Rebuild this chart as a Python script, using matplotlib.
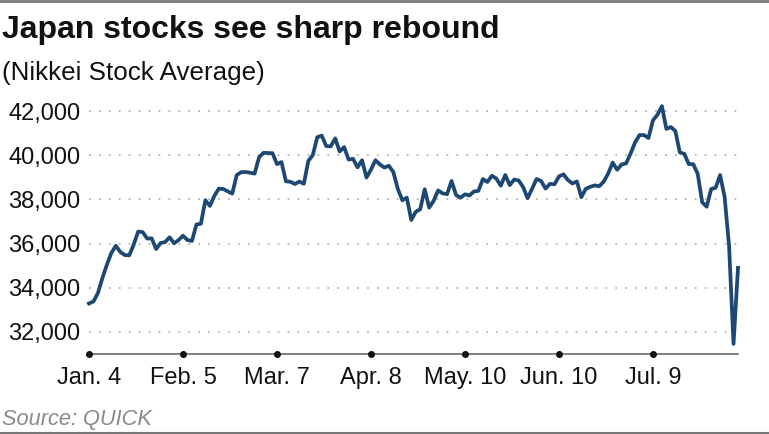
import matplotlib
matplotlib.use("Agg")
import matplotlib.pyplot as plt
from matplotlib.lines import Line2D

# Nikkei Stock Average daily closes, Jan 4 - Aug 6, 2024 (trading days)
nikkei = [
    # January
    33288, 33377, 33763, 34441, 35049, 35577, 35901, 35619, 35477, 35466,
    35963, 36546, 36517, 36226, 36236, 35751, 36026, 36065, 36287,
    # February
    36011, 36158, 36354, 36160, 36119, 36863, 36897, 37963, 37703, 38157,
    38487, 38470, 38363, 38262, 39098, 39233, 39239, 39208, 39166,
    # March
    39910, 40109, 40097, 40090, 39598, 39688, 38820, 38797, 38695, 38807,
    38707, 39740, 40003, 40815, 40888, 40414, 40398, 40762, 40168, 40369,
    # April
    39803, 39838, 39451, 39773, 38992, 39347, 39773, 39581, 39442, 39523,
    39232, 38471, 37961, 38079, 37068, 37438, 37552, 38460, 37628, 37934,
    38406,
    # May
    38274, 38236, 38835, 38202, 38073, 38229, 38179, 38356, 38385, 38920,
    38787, 39069, 38946, 38617, 39103, 38646, 38900, 38855, 38556, 38054,
    38487,
    # June
    38923, 38837, 38490, 38703, 38683, 39038, 39134, 38876, 38720, 38814,
    38102, 38482, 38570, 38633, 38596, 38804, 39173, 39667, 39341, 39583,
    # July
    39631, 40074, 40580, 40913, 40912, 40780, 41580, 41831, 42224, 41190,
    41275, 41097, 40126, 40063, 39599, 39594, 39155, 37869, 37667, 38468,
    38525, 39102,
    # August
    38126, 35909, 31458, 34900,
]
tick_positions = [0, 21, 42, 63, 84, 105, 126]
tick_labels = ["Jan. 4", "Feb. 5", "Mar. 7", "Apr. 8", "May. 10", "Jun. 10", "Jul. 9"]
y_ticks = [32000, 34000, 36000, 38000, 40000, 42000]

W, H = 769, 434
fig = plt.figure(figsize=(W / 100, H / 100), dpi=100)
plt.rcParams['font.family'] = ['Liberation Sans', 'DejaVu Sans']

# axes: x idx 0 at px 89, idx 145 at px 738; y 31000 at px 354, 42400 at px ~102
left, right = 89 / W, 738 / W
bottom, top = (H - 354) / H, (H - 102.2) / H
ax = fig.add_axes([left, bottom, right - left, top - bottom])
ax.set_xlim(0, len(nikkei) - 1)
ax.set_ylim(31000, 42400)

for s in ax.spines.values():
    s.set_visible(False)

ax.set_yticks(y_ticks)
ax.set_yticklabels([f"{v:,}" for v in y_ticks], fontsize=17, color="#111111")
ax.tick_params(axis="y", length=0, pad=6)
for v in y_ticks:
    ax.axhline(v, color="#b5b5b5", linewidth=1.3, linestyle=(0, (1, 4.5)), zorder=1)

ax.set_xticks(tick_positions)
ax.set_xticklabels(tick_labels, fontsize=17, color="#111111")
ax.tick_params(axis="x", length=0, pad=9.5)

# baseline with tick dots
ax.axhline(31000, color="#6a6a6a", linewidth=1.2, zorder=2, clip_on=False)
ax.plot(tick_positions, [31000] * len(tick_positions), "o", color="#111111",
        markersize=4, zorder=3, clip_on=False)

ax.plot(range(len(nikkei)), nikkei, color="#1d4873", linewidth=2.7,
        solid_joinstyle="round", zorder=4, clip_on=False)

fig.text(2 / W, 1 - 38 / H, "Japan stocks see sharp rebound", fontsize=23,
         fontweight="bold", color="#111111", ha="left", va="baseline")
fig.text(2 / W, 1 - 80 / H, "(Nikkei Stock Average)", fontsize=18.7,
         color="#111111", ha="left", va="baseline")
fig.text(2 / W, 1 - 425 / H, "Source: QUICK", fontsize=15.7, style="italic",
         color="#8a8a8a", ha="left", va="baseline")

# top/bottom frame rules
fig.add_artist(Line2D([0, 1], [1 - 1 / H, 1 - 1 / H], transform=fig.transFigure,
                      color="#777777", linewidth=2))
fig.add_artist(Line2D([0, 1], [1 - 432.5 / H, 1 - 432.5 / H], transform=fig.transFigure,
                      color="#777777", linewidth=1.5))

fig.savefig("out.png", dpi=100)
